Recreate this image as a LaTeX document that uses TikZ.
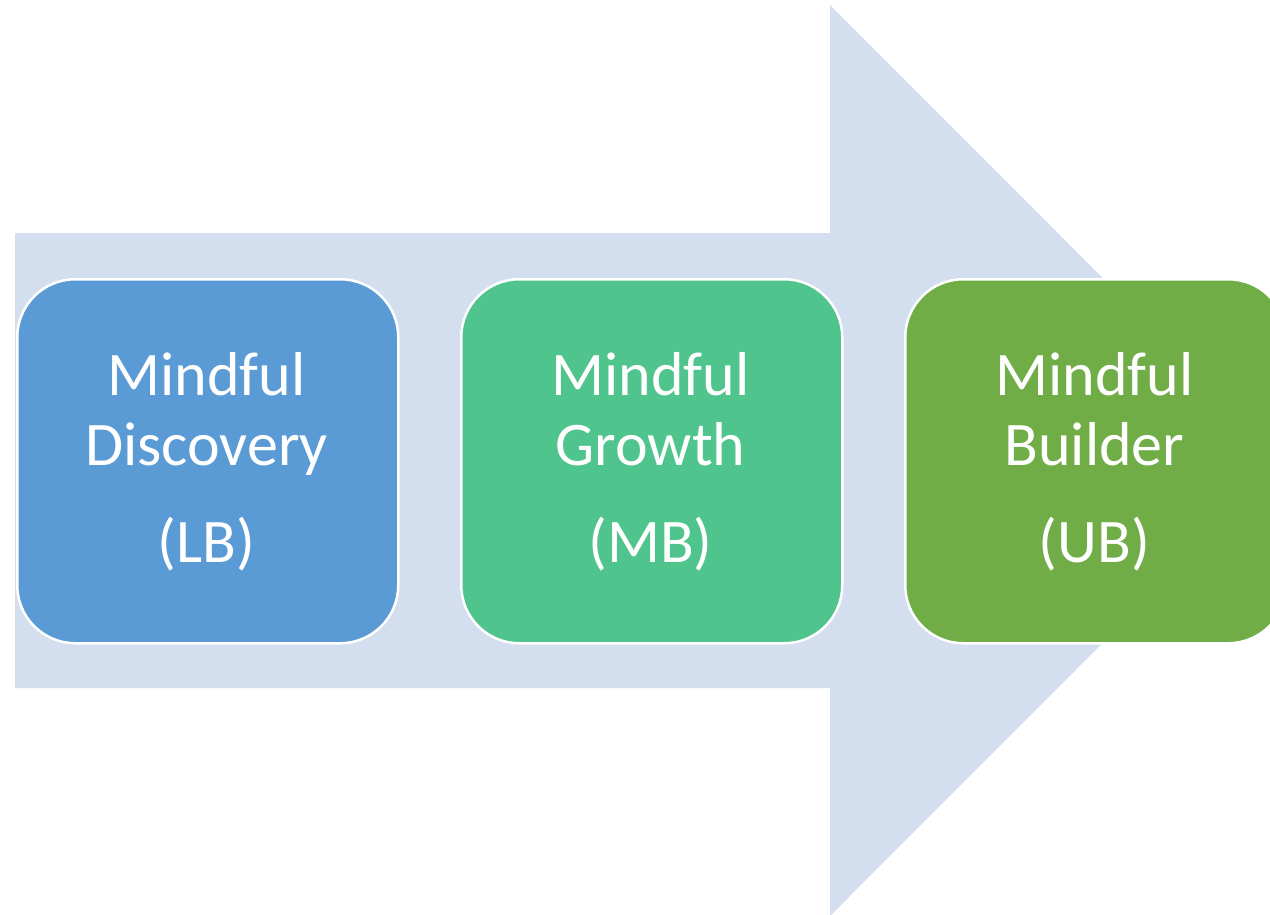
\documentclass[tikz,border=0pt]{standalone}
\usepackage{fontspec}
\setmainfont{Carlito}
\definecolor{arrowbg}{HTML}{D3DEEF}
\definecolor{cblue}{HTML}{5B9BD5}
\definecolor{cgreen}{HTML}{4FC48C}
\definecolor{colive}{HTML}{70AD47}
\begin{document}
\begin{tikzpicture}[x=1pt,y=-1pt,
  stagebox/.style={draw=white,line width=2.5pt,rounded corners=58pt,minimum width=381pt,minimum height=364pt,inner sep=0pt,anchor=north west},
  stagetext/.style={text=white,font=\fontsize{62}{70}\selectfont,anchor=base,inner sep=0pt}]
\useasboundingbox (0,0) rectangle (1270,914);
\clip (0,0) rectangle (1270,914);
\fill[white] (0,0) rectangle (1270,914);
% big arrow
\fill[arrowbg] (15,233) -- (830,233) -- (830,5) -- (1285,460.5) -- (830,916) -- (830,688) -- (15,688) -- cycle;
% boxes
\node[stagebox,fill=cblue] (b1) at (16,278) {};
\node[stagebox,fill=cgreen] (b2) at (460,278) {};
\node[stagebox,fill=colive] (b3) at (904,278) {};
% texts
\node[stagetext] (b1a) at (206.5,395) {Mindful};
\node[stagetext] (b1b) at (206.5,465) {Discovery};
\node[stagetext] (b1c) at (206.5,562) {(LB)};
\node[stagetext] (b2a) at (650.5,395) {Mindful};
\node[stagetext] (b2b) at (650.5,465) {Growth};
\node[stagetext] (b2c) at (650.5,562) {(MB)};
\node[stagetext] (b3a) at (1094.5,395) {Mindful};
\node[stagetext] (b3b) at (1094.5,465) {Builder};
\node[stagetext] (b3c) at (1094.5,562) {(UB)};
\end{tikzpicture}
\end{document}
